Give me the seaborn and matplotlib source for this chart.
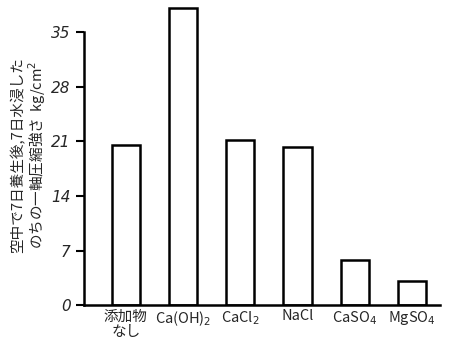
import matplotlib
matplotlib.use("Agg")
import matplotlib.pyplot as plt
import seaborn as sns
import pandas as pd

# datos (kg/cm2)
additives = ["添加物\nなし", "Ca(OH)$_2$", "CaCl$_2$", "NaCl", "CaSO$_4$", "MgSO$_4$"]
strength = [20.6, 38.1, 21.2, 20.3, 5.8, 3.1]
yticks = [0, 7, 14, 21, 28, 35]

df = pd.DataFrame({"additive": additives, "strength": strength})

sns.set_theme(style="white")
plt.rcParams["font.family"] = ["Noto Sans CJK JP", "DejaVu Sans"]

fig = plt.figure(figsize=(4.49, 3.39), dpi=100)
ax = fig.add_axes([0.187, 0.100, 0.793, 0.885])

sns.barplot(data=df, x="additive", y="strength", ax=ax, color="white",
            edgecolor="black", linewidth=1.8, width=0.49)

ax.set_xlim(-0.73, 5.49)
ax.set_ylim(0, 38.5)
ax.set_yticks(yticks)
ax.set_yticklabels([str(t) for t in yticks], fontstyle="italic", fontsize=11,
                   family="DejaVu Sans")
ax.tick_params(axis="y", direction="out", length=6, width=1.5, color="black", left=True)
ax.tick_params(axis="x", length=0, labelsize=10.5, pad=3)

ax.spines["top"].set_visible(False)
ax.spines["right"].set_visible(False)
ax.spines["left"].set_bounds(0, 35)
for s in ["left", "bottom"]:
    ax.spines[s].set_color("black")
    ax.spines[s].set_linewidth(1.8)

ax.set_xlabel("")
ax.set_ylabel("空中で7日養生後,7日水浸した\nのちの一軸圧縮強さ  kg/cm$^2$", fontsize=10.5,
              linespacing=1.1)
ax.yaxis.set_label_coords(-0.1, 0.5)

fig.savefig("out.png", dpi=100)
